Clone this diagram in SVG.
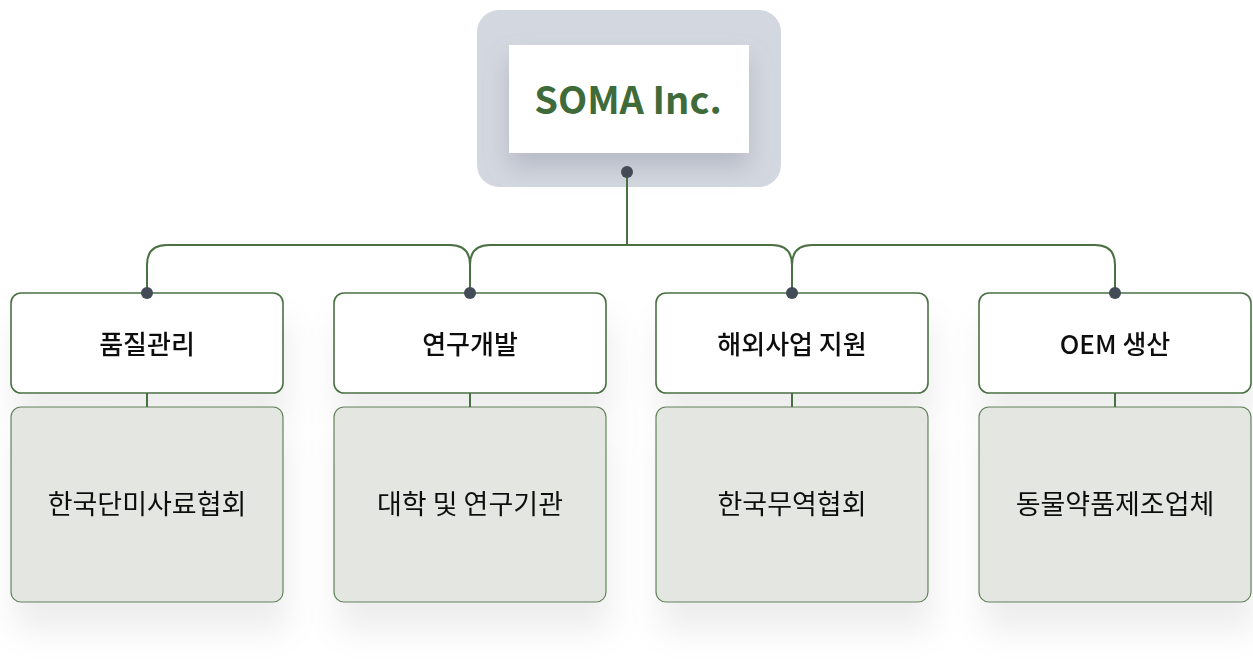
<svg xmlns="http://www.w3.org/2000/svg" width="1253" height="666" viewBox="0 0 1253 666">
<defs>
<filter id="sh" x="-30%" y="-30%" width="160%" height="190%">
<feDropShadow dx="4" dy="28" stdDeviation="16" flood-color="#000" flood-opacity="0.07"/>
</filter>
<filter id="shTop" x="-30%" y="-30%" width="160%" height="180%">
<feDropShadow dx="0" dy="14" stdDeviation="12" flood-color="#8a90a0" flood-opacity="0.4"/>
</filter>
<style>
.hdr{fill:#ffffff;stroke:#4a7043;stroke-width:1.6}
.sub{fill:#e4e7e1;stroke:#4a7043;stroke-width:1.2;stroke-opacity:0.85}
.conn{fill:none;stroke:#4a7043;stroke-width:2}
.dot{fill:#434b56}
.ht{font-family:"Noto Sans CJK KR","Noto Sans",sans-serif;font-size:26px;font-weight:500;fill:#111;text-anchor:middle}
.st{font-family:"Noto Sans CJK KR","Noto Sans",sans-serif;font-size:27px;font-weight:400;fill:#111;text-anchor:middle}
.root{font-family:"Noto Sans CJK KR","Noto Sans",sans-serif;font-size:38px;font-weight:700;fill:#3f6b3a;text-anchor:middle}
</style>
</defs>
<rect width="1253" height="666" fill="#ffffff"/>
<g id="root">
<rect x="477" y="10" width="304" height="177" rx="22" fill="#d3d7df"/>
<rect x="509" y="45" width="240" height="108" fill="#ffffff" filter="url(#shTop)"/>
<text class="root" x="628" y="114">SOMA Inc.</text>
</g>
<g id="n1" filter="url(#sh)">
<rect class="sub" x="11" y="407" width="272" height="195" rx="10"/>
<rect class="hdr" x="11" y="293" width="272" height="100" rx="10"/>
<line class="conn" x1="147" y1="393" x2="147" y2="407" stroke-width="1.6"/>
<text class="ht" x="147" y="354">품질관리</text>
<text class="st" x="147" y="514">한국단미사료협회</text>
</g>
<g id="n2" filter="url(#sh)">
<rect class="sub" x="334" y="407" width="272" height="195" rx="10"/>
<rect class="hdr" x="334" y="293" width="272" height="100" rx="10"/>
<line class="conn" x1="470" y1="393" x2="470" y2="407" stroke-width="1.6"/>
<text class="ht" x="470" y="354">연구개발</text>
<text class="st" x="470" y="514">대학 및 연구기관</text>
</g>
<g id="n3" filter="url(#sh)">
<rect class="sub" x="656" y="407" width="272" height="195" rx="10"/>
<rect class="hdr" x="656" y="293" width="272" height="100" rx="10"/>
<line class="conn" x1="792" y1="393" x2="792" y2="407" stroke-width="1.6"/>
<text class="ht" x="792" y="354">해외사업 지원</text>
<text class="st" x="792" y="514">한국무역협회</text>
</g>
<g id="n4" filter="url(#sh)">
<rect class="sub" x="979" y="407" width="272" height="195" rx="10"/>
<rect class="hdr" x="979" y="293" width="272" height="100" rx="10"/>
<line class="conn" x1="1115" y1="393" x2="1115" y2="407" stroke-width="1.6"/>
<text class="ht" x="1115" y="354">OEM 생산</text>
<text class="st" x="1115" y="514">동물약품제조업체</text>
</g>
<g id="connectors">
<path class="conn" d="M627,172 V245"/>
<path class="conn" d="M147,293 V265 Q147,245 167,245 H450 Q470,245 470,265 V293"/>
<path class="conn" d="M470,265 Q470,245 490,245 H772 Q792,245 792,265 V293"/>
<path class="conn" d="M792,265 Q792,245 812,245 H1095 Q1115,245 1115,265 V293"/>
<circle class="dot" cx="627" cy="172" r="6"/>
<circle class="dot" cx="147" cy="293" r="6"/>
<circle class="dot" cx="470" cy="293" r="6"/>
<circle class="dot" cx="792" cy="293" r="6"/>
<circle class="dot" cx="1115" cy="293" r="6"/>
</g>
</svg>
